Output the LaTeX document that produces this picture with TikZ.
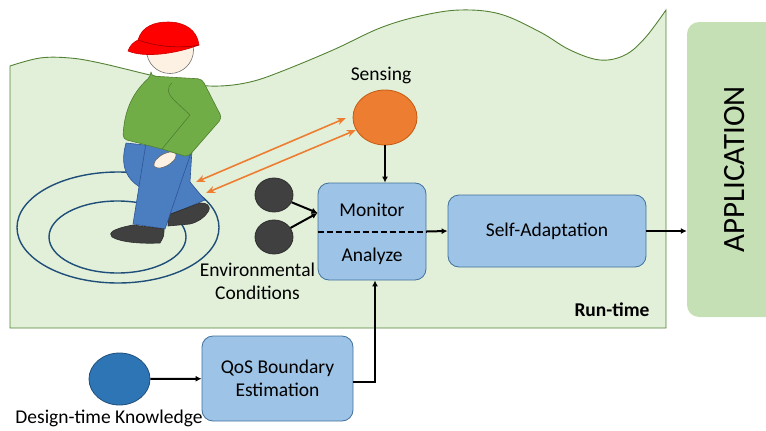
\documentclass[tikz,border=0pt]{standalone}
\usepackage{fontspec}
\setmainfont{Carlito}
\usetikzlibrary{arrows.meta,shapes.geometric,calc}

\definecolor{fieldfill}{HTML}{E2F0D9}
\definecolor{fieldline}{HTML}{548235}
\definecolor{appfill}{HTML}{C5E0B4}
\definecolor{boxfill}{HTML}{9DC3E6}
\definecolor{boxline}{HTML}{41719C}
\definecolor{sensfill}{HTML}{ED7D31}
\definecolor{sensline}{HTML}{C55A11}
\definecolor{envfill}{HTML}{404040}
\definecolor{dkfill}{HTML}{2E75B6}
\definecolor{dkline}{HTML}{1F4E79}
\definecolor{ringline}{HTML}{1F4E79}
\definecolor{shirt}{HTML}{70AD47}
\definecolor{shirtline}{HTML}{507E32}
\definecolor{jeans}{HTML}{4A7EC0}
\definecolor{jeansline}{HTML}{2F5597}
\definecolor{skin}{HTML}{FDF1E3}
\definecolor{capred}{HTML}{FF0000}
\definecolor{shoe}{HTML}{404040}

\begin{document}
\begin{tikzpicture}[x=1pt,y=-1pt,
  every node/.style={font=\fontsize{19.5}{23}\selectfont, inner sep=0pt},
  procbox/.style={draw=boxline, fill=boxfill, line width=0.8pt, rounded corners=11pt},
  blob/.style={ellipse, line width=0.8pt},
  flow/.style={line width=2pt, -{Latex[length=6pt,width=6pt]}},
  signal/.style={draw=sensfill, line width=1.6pt, {Stealth[length=9pt,width=7pt]}-{Stealth[length=9pt,width=7pt]}},
  ring/.style={draw=ringline, line width=1.4pt},
  outline/.style={line width=0.6pt, line join=round},
]
\useasboundingbox (0,0) rectangle (766,431);

% run-time field with a wavy top edge
\draw[fill=fieldfill, draw=fieldline, line width=0.9pt]
  (10,328) -- plot[smooth, tension=0.6] coordinates {
    (10,66) (40,58) (70,58) (100,63) (150,75) (190,84) (220,86) (250,82)
    (280,72) (333,50) (380,28) (420,16) (460,10) (500,14) (540,32)
    (570,50) (600,60) (625,55) (645,38) (666,10)}
  -- (666,328) -- cycle;
\node[font=\fontsize{19.5}{23}\selectfont\bfseries] (rt) at (612,310) {Run-time};

% application column
\node[fill=appfill, rounded corners=12pt, minimum width=96pt, minimum height=295pt] (app) at (735,169.5) {};
\node[rotate=90, font=\fontsize{31}{36}\selectfont] (apptxt) at (app.center) {APPLICATION};

% rings under the walker
\draw[ring] (118,227.5) ellipse [x radius=101, y radius=55.5];
\draw[ring] (117.5,237) ellipse [x radius=68.5, y radius=36];

% walker: back leg and shoe
\draw[outline, fill=jeans, draw=jeansline]
  (126,143) .. controls (120,165) and (125,180) .. (145,190) -- (172,214) -- (205,200) -- (190,182) -- (192,150) -- cycle;
\draw[outline, fill=shoe, draw=shoe!70!black]
  (168,215) -- (200,203) .. controls (206,202) and (212,206) .. (208,212) .. controls (204,218) and (198,222) .. (190,224) -- (168,226) -- cycle;
% front leg and shoe
\draw[outline, fill=jeans, draw=jeansline]
  (146,143) -- (133,224) -- (165,229) -- (192,150) -- (185,143) -- cycle;
\draw[outline, fill=shoe, draw=shoe!70!black]
  (133,225) -- (164,229) .. controls (164,236) .. (160,243) .. controls (140,244) and (120,242) .. (112,237) .. controls (108,233) and (112,229) .. (133,225) -- cycle;
% hand, tucked under the sleeve
\draw[outline, fill=skin, draw=black!60]
  plot[smooth cycle] coordinates {(175.8,153.7) (174.8,159.2) (168,165.2) (159.5,168.1)
    (154.2,166.3) (155.2,160.8) (162,154.8) (170.5,151.9)};
% jacket
\draw[outline, fill=shirt, draw=shirtline, rounded corners=4pt]
  (151,76) -- (202,79) -- (222,118) -- (188,157) -- (162,149) -- (123,139)
  .. controls (124,115) and (130,95) .. (151,76) -- cycle;
\draw[outline, draw=shirtline]
  (172,83) .. controls (166,88) and (168,94) .. (174,100) -- (190,115) -- (162,149);
% head and cap
\draw[outline, fill=skin, draw=black!55] (170,50) circle [radius=23.5];
\draw[outline, fill=capred, draw=capred!80!black]
  (128,51) .. controls (130,45) and (134,42) .. (138,40)
  .. controls (142,26) and (155,22) .. (168,22)
  .. controls (185,22) and (197,30) .. (199,45)
  .. controls (175,54) and (145,58) .. (128,51) -- cycle;
\draw[outline, draw=capred!60!black] (138,40) .. controls (160,48) and (185,48) .. (199,45);

% sensing
\node[blob, fill=sensfill, draw=sensline, minimum width=64pt, minimum height=55pt] (sens) at (385,117.5) {};
\node (senslbl) at (381,75) {Sensing};

% monitor / analyze
\node[procbox, minimum width=108pt, minimum height=97pt] (mon) at (372,231.5) {};
\node (montxt) at (372,210) {Monitor};
\node (anatxt) at (372,256) {Analyze};
\draw[line width=2pt, dash pattern=on 6pt off 3pt] (mon.west) -- (mon.east);

% self-adaptation
\node[procbox, minimum width=198pt, minimum height=72pt] (sa) at (547,231) {Self-Adaptation};

% environmental conditions
\node[blob, fill=envfill, draw=envfill!70!black, minimum width=38pt, minimum height=34pt] (env1) at (274,195) {};
\node[blob, fill=envfill, draw=envfill!70!black, minimum width=38pt, minimum height=34pt] (env2) at (274,237) {};
\node[align=center] (envlbl) at (257.5,281.5) {Environmental\\Conditions};

% design-time knowledge
\node[blob, fill=dkfill, draw=dkline, minimum width=61pt, minimum height=52pt] (dk) at (119.5,379) {};
\node (dklbl) at (109,418) {Design-time Knowledge};
\node[procbox, align=center, minimum width=151pt, minimum height=85pt] (qos) at (277.5,378.5) {QoS Boundary\\Estimation};

% connectors
\coordinate (monin) at ([yshift=18.5pt]mon.west);
\draw[flow] (env1) -- (monin);
\draw[flow] (env2) -- (monin);
\draw[flow] (sens) -- (sens |- mon.north);
\draw[flow] (mon.east) -- (sa.west);
\draw[flow] (sa.east) -- (app.west |- sa.east);
\draw[flow] (dk) -- (qos);
\draw[flow] ([yshift=-3pt]qos.east) -| ([xshift=3pt]mon.south);

% radio link between walker and sensor
\coordinate (w1) at (196,182);
\coordinate (w2) at (206,193);
\coordinate (s1) at (346,118);
\coordinate (s2) at (356,130);
\draw[signal] (w1) -- (s1);
\draw[signal] (w2) -- (s2);
\end{tikzpicture}
\end{document}
